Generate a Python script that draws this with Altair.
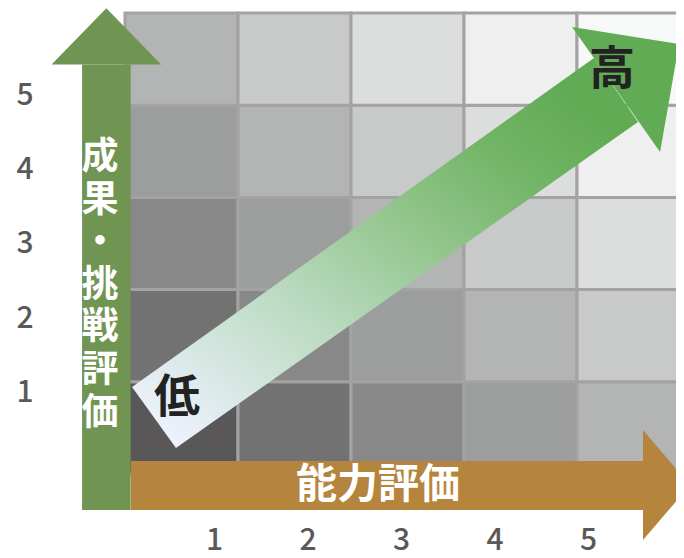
import altair as alt
import pandas as pd

# ---------------- data ----------------
ability_levels = [1, 2, 3, 4, 5]          # 能力評価 (columns)
result_levels = [1, 2, 3, 4, 5]           # 成果・挑戦評価 (rows)
# shade of a cell depends on (ability + result)
shade_colors = ["#595758", "#727272", "#888888", "#9c9d9d", "#b3b4b4",
                "#c8c9c9", "#dcdddd", "#efefef", "#f7f8f8"]

x_tick_labels = ["1", "2", "3", "4", "5"]
y_tick_labels = ["1", "2", "3", "4", "5"]

x_axis_title = "能力評価"
y_axis_title = "成果・挑戦評価"
low_label = "低"
high_label = "高"

# arrow outlines in grid units (cell centres at 1..5)
green_shaft = [(0.12, 0.11), (0.55, 0.11), (0.55, 4.94), (0.12, 4.94)]
green_head = [(-0.15, 4.94), (0.82, 4.94), (0.335, 5.55)]
orange_shaft = [(0.553, 0.11), (5.084, 0.11), (5.084, 0.641), (0.553, 0.641)]
orange_head = [(5.084, -0.216), (5.50, 0.38), (5.084, 0.977)]
diag_shaft = [(0.562, 1.444), (4.650, 5.012), (5.040, 4.318), (0.951, 0.782)]
diag_head = [(4.456, 5.348), (5.403, 5.164), (5.235, 3.992)]

# ---------------- helpers ----------------
def polygon_rows(verts, piece):
    """Convex polygon -> rows (x, lo, hi) for an area mark."""
    xs = sorted(set(v[0] for v in verts))
    n = len(verts)
    rows = []
    for x in xs:
        ys = []
        for i in range(n):
            (x0, y0), (x1, y1) = verts[i], verts[(i + 1) % n]
            if min(x0, x1) - 1e-9 <= x <= max(x0, x1) + 1e-9:
                if abs(x1 - x0) < 1e-12:
                    ys += [y0, y1]
                else:
                    ys.append(y0 + (y1 - y0) * (x - x0) / (x1 - x0))
        rows.append({"piece": piece, "x": x, "lo": min(ys), "hi": max(ys)})
    return rows

cells = pd.DataFrame([
    {"a": a, "r": r, "x0": a - 0.5, "x1": a + 0.5, "y0": r - 0.5, "y1": r + 0.5,
     "level": a + r - 2}
    for a in ability_levels for r in result_levels
])

W, H = 668, 542
XS = alt.Scale(domain=[-0.5354, 5.376], nice=False, zero=False)
YS = alt.Scale(domain=[-0.324, 5.554], nice=False, zero=False)

grid = alt.Chart(cells).mark_rect(stroke="#a3a3a3", strokeWidth=3, clip=True).encode(
    x=alt.X("x0:Q", scale=XS, axis=None),
    x2="x1:Q",
    y=alt.Y("y0:Q", scale=YS, axis=None),
    y2="y1:Q",
    color=alt.Color("level:O", scale=alt.Scale(domain=list(range(9)), range=shade_colors), legend=None),
)

def area_layer(rows, **mark_kw):
    return alt.Chart(pd.DataFrame(rows)).mark_area(orient="vertical", interpolate="linear",
                                                   clip=True, **mark_kw).encode(
        x=alt.X("x:Q", scale=XS, axis=None),
        y=alt.Y("lo:Q", scale=YS, axis=None),
        y2="hi:Q",
        detail="piece:N",
    )

green_arrow = area_layer(polygon_rows(green_shaft, "s") + polygon_rows(green_head, "h"), color="#709552")
orange_arrow = area_layer(polygon_rows(orange_shaft, "s") + polygon_rows(orange_head, "h"), color="#b5853e")
diag_grad = alt.Gradient(
    gradient="linear", x1=0, y1=1, x2=1, y2=0,
    stops=[alt.GradientStop(offset=0.0, color="#f1f5ff"),
           alt.GradientStop(offset=0.1, color="#e6eef5"),
           alt.GradientStop(offset=0.33, color="#bddcc4"),
           alt.GradientStop(offset=0.55, color="#95c68f"),
           alt.GradientStop(offset=0.75, color="#70b464"),
           alt.GradientStop(offset=0.88, color="#62ab55"),
           alt.GradientStop(offset=1.0, color="#62ab55")])
diag_shaft_layer = area_layer(polygon_rows(diag_shaft, "s"), color=diag_grad)
diag_head_layer = area_layer(polygon_rows(diag_head, "h"), color="#62ab55")

labels = pd.DataFrame([
    {"t": low_label, "x": 0.960, "y": 1.324},
    {"t": high_label, "x": 4.810, "y": 4.882},
])
lowhigh = alt.Chart(labels).mark_text(font="Noto Sans CJK JP", fontWeight="bold", fontSize=46,
                                       color="#222222", align="center", baseline="middle").encode(
    x=alt.X("x:Q", scale=XS, axis=None), y=alt.Y("y:Q", scale=YS, axis=None), text="t:N")

xtitle = alt.Chart(pd.DataFrame([{"t": x_axis_title, "x": 2.739, "y": 0.37}])).mark_text(
    font="Noto Sans CJK JP", fontWeight="bold", fontSize=41, color="white",
    align="center", baseline="middle").encode(
    x=alt.X("x:Q", scale=XS, axis=None), y=alt.Y("y:Q", scale=YS, axis=None), text="t:N")

# vertical title: one character per line, first line centred at y
ytitle = alt.Chart(pd.DataFrame([{"t": "\n".join(list(y_axis_title)), "x": 0.279, "y": 3.927}])).mark_text(
    font="Noto Sans CJK JP", fontWeight="bold", fontSize=37, color="white", lineBreak="\n",
    lineHeight=42.6, align="center", baseline="middle").encode(
    x=alt.X("x:Q", scale=XS, axis=None), y=alt.Y("y:Q", scale=YS, axis=None), text="t:N")

# tick labels on their own (independent) scales
xt = pd.DataFrame({"k": [int(s) for s in x_tick_labels], "t": x_tick_labels})
yt = pd.DataFrame({"k": [int(s) for s in y_tick_labels], "t": y_tick_labels})
tick_style = dict(font="Noto Sans CJK JP", fontWeight=500, fontSize=30, color="#595959",
                  align="center", baseline="middle", dy=3)
xticks = alt.Chart(xt).mark_text(**tick_style).encode(
    x=alt.X("k:Q", scale=alt.Scale(domain=[-1.2086, 5.9358], nice=False, zero=False), axis=None),
    y=alt.value(530),
    text="t:N")
yticks = alt.Chart(yt).mark_text(**tick_style).encode(
    x=alt.value(17),
    y=alt.Y("k:Q", scale=alt.Scale(domain=[-1.1557, 6.143], nice=False, zero=False), axis=None),
    text="t:N")

chart = alt.layer(
    grid, green_arrow, orange_arrow, diag_shaft_layer, diag_head_layer,
    lowhigh, xtitle, ytitle, xticks, yticks
).resolve_scale(x="independent", y="independent", color="independent").properties(
    width=W, height=H, padding=0, autosize=alt.AutoSizeParams(type="none")
).configure_view(stroke=None)

chart.save("out.html", embed_options={"renderer": "svg", "actions": False})
